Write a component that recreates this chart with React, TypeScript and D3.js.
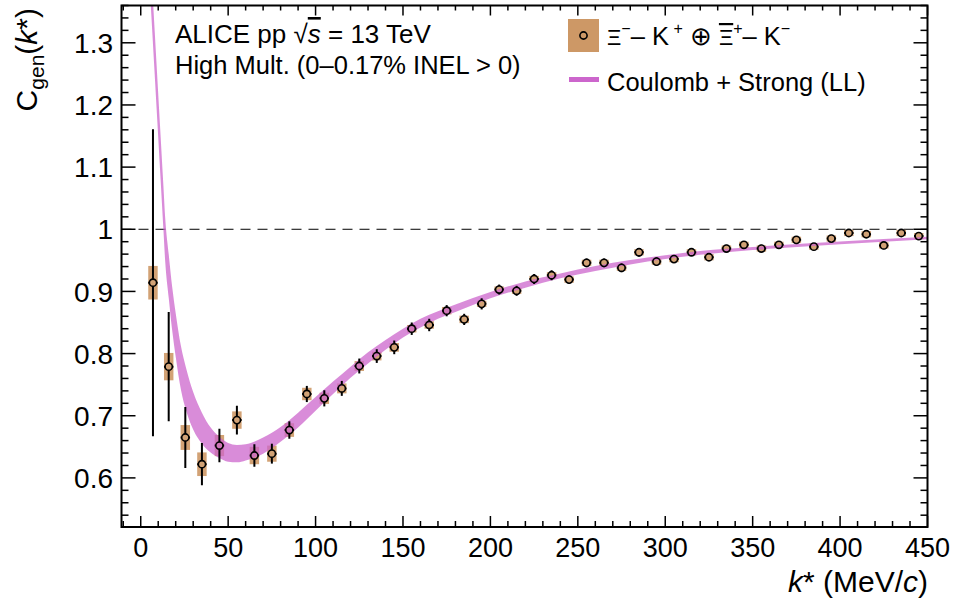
import React from 'react';
import * as d3 from 'd3';

// ---- data ----
const kStar = [7, 16, 25.5, 35, 45, 55, 65, 75, 85, 95, 105, 115, 125, 135, 145, 155, 165, 175, 185, 195, 205, 215, 225, 235, 245, 255, 265, 275, 285, 295, 305, 315, 325, 335, 345, 355, 365, 375, 385, 395, 405, 415, 425, 435, 445];
const cGen = [0.914, 0.779, 0.665, 0.622, 0.652, 0.693, 0.636, 0.639, 0.677, 0.735, 0.728, 0.744, 0.780, 0.796, 0.810, 0.840, 0.846, 0.869, 0.855, 0.880, 0.903, 0.901, 0.920, 0.926, 0.919, 0.946, 0.946, 0.938, 0.963, 0.948, 0.952, 0.963, 0.955, 0.969, 0.975, 0.969, 0.975, 0.983, 0.972, 0.985, 0.994, 0.992, 0.974, 0.994, 0.989];
const statErr = [0.247, 0.088, 0.049, 0.034, 0.027, 0.023, 0.018, 0.016, 0.014, 0.013, 0.013, 0.012, 0.012, 0.011, 0.011, 0.010, 0.010, 0.009, 0.009, 0.009, 0.008, 0.008, 0.008, 0.008, 0.007, 0.007, 0.007, 0.007, 0.007, 0.007, 0.006, 0.006, 0.006, 0.006, 0.006, 0.006, 0.006, 0.006, 0.006, 0.006, 0.006, 0.006, 0.006, 0.006, 0.006];
const sysErr = [0.027, 0.022, 0.020, 0.019, 0.017, 0.014, 0.014, 0.013, 0.011, 0.010, 0.009, 0.008, 0.008, 0.007, 0.007, 0.006, 0.006, 0.006, 0.006, 0.005, 0.005, 0.005, 0.005, 0.005, 0.005, 0.005, 0.005, 0.005, 0.005, 0.005, 0.005, 0.005, 0.005, 0.005, 0.005, 0.005, 0.005, 0.005, 0.005, 0.005, 0.005, 0.005, 0.005, 0.005, 0.005];

const bandK = [5, 6, 7, 8, 9, 10, 11, 12, 13, 14, 16, 18, 20, 23, 26, 30, 35, 40, 45, 50, 55, 60, 70, 80, 90, 100, 110, 120, 130, 140, 150, 160, 170, 180, 200, 220, 240, 260, 280, 300, 320, 350, 400, 450];
const bandLo = [1.398, 1.348, 1.298, 1.248, 1.198, 1.148, 1.098, 1.048, 0.998, 0.948, 0.890, 0.837, 0.795, 0.742, 0.708, 0.678, 0.655, 0.641, 0.632, 0.626, 0.625, 0.628, 0.639, 0.658, 0.681, 0.708, 0.735, 0.761, 0.784, 0.806, 0.826, 0.842, 0.856, 0.867, 0.889, 0.906, 0.921, 0.933, 0.9435, 0.952, 0.959, 0.9665, 0.9758, 0.984];
const bandHi = [1.468, 1.418, 1.368, 1.318, 1.268, 1.218, 1.168, 1.118, 1.068, 1.018, 0.960, 0.907, 0.865, 0.812, 0.776, 0.738, 0.705, 0.681, 0.666, 0.656, 0.653, 0.654, 0.665, 0.682, 0.705, 0.730, 0.755, 0.779, 0.802, 0.822, 0.840, 0.856, 0.868, 0.879, 0.899, 0.916, 0.929, 0.941, 0.9505, 0.958, 0.965, 0.9715, 0.9802, 0.988];

const xTickVals = [0, 50, 100, 150, 200, 250, 300, 350, 400, 450];
const yTickVals = [0.6, 0.7, 0.8, 0.9, 1.0, 1.1, 1.2, 1.3];
const yTickLabels = ['0.6', '0.7', '0.8', '0.9', '1', '1.1', '1.2', '1.3'];

export default function App() {
  const width = 955;
  const height = 603;
  const FONT = '"Liberation Sans", Arial, Helvetica, sans-serif';
  const BOX = '#cd9866';
  const BAND = '#cc66cc';
  const kErr = 2.7;
  const mr = 3.6;
  const L = 121.5, R = 927.5, T = 5.5, B = 527;
  const x = d3.scaleLinear().domain([-11, 450]).range([L, R]);
  const y = d3.scaleLinear().domain([0.521, 1.36]).range([B, T]);

  const bandData = bandK.map((k, i) => ({ k: k, lo: bandLo[i], hi: bandHi[i] }));
  const area = d3.area()
    .x((d: any) => x(d.k)).y0((d: any) => y(d.lo)).y1((d: any) => y(d.hi))
    .curve(d3.curveMonotoneX);
  const bandPath = (area as any)(bandData) || '';

  const xMinor = d3.range(-10, 451, 10);
  const yMinor = d3.range(0.54, 1.3601, 0.02);

  const pts = kStar.map((k, i) => ({ k: k, v: cGen[i], s: statErr[i], sy: sysErr[i] }));

  return (
    <svg width={width} height={height} style={{ position: 'absolute', left: 0, top: 0, display: 'block', background: '#fff' }} fontFamily={FONT}>
      <defs>
        <clipPath id="plotclip"><rect x={L} y={T} width={R - L} height={B - T} /></clipPath>
      </defs>
      <rect x={0} y={0} width={width} height={height} fill="#fff" />
      <line x1={L} x2={R} y1={y(1)} y2={y(1)} stroke="#000" strokeWidth={1} strokeDasharray="10,7" />
      <g clipPath="url(#plotclip)">
        {pts.map((p, i) => (
          <rect key={'b' + i} x={x(p.k - kErr)} width={x(p.k + kErr) - x(p.k - kErr)} y={y(p.v + p.sy)} height={y(p.v - p.sy) - y(p.v + p.sy)} fill={BOX} opacity={0.9} />
        ))}
        <path d={bandPath} fill={BAND} fillOpacity={0.75} />
        {pts.map((p, i) => {
          const cx = x(p.k), cy = y(p.v);
          const top = y(p.v + p.s), bot = y(p.v - p.s);
          const lft = x(p.k - kErr), rgt = x(p.k + kErr);
          return (
            <g key={'e' + i} stroke="#000" strokeWidth={2}>
              {top < cy - mr && <line x1={cx} x2={cx} y1={top} y2={cy - mr} />}
              {bot > cy + mr && <line x1={cx} x2={cx} y1={cy + mr} y2={bot} />}
              <line x1={lft} x2={cx - mr} y1={cy} y2={cy} />
              <line x1={cx + mr} x2={rgt} y1={cy} y2={cy} />
            </g>
          );
        })}
        {pts.map((p, i) => (
          <circle key={'m' + i} cx={x(p.k)} cy={y(p.v)} r={mr} fill="none" stroke="#000" strokeWidth={1.6} />
        ))}
      </g>
      <rect x={L} y={T} width={R - L} height={B - T} fill="none" stroke="#000" strokeWidth={2} />
      {xMinor.map(v => {
        const major = Math.abs(v % 50) < 1e-6;
        return (
          <g key={'xt' + v} stroke="#000" strokeWidth={1.5}>
            <line x1={x(v)} x2={x(v)} y1={B} y2={B - (major ? 11 : 6)} />
            <line x1={x(v)} x2={x(v)} y1={T} y2={T + (major ? 10 : 5)} />
          </g>
        );
      })}
      {yMinor.map((v, i) => {
        const major = Math.abs(v * 10 - Math.round(v * 10)) < 1e-6;
        return (
          <g key={'yt' + i} stroke="#000" strokeWidth={1.5}>
            <line x1={L} x2={L + (major ? 14 : 7)} y1={y(v)} y2={y(v)} />
            <line x1={R} x2={R - (major ? 14 : 7)} y1={y(v)} y2={y(v)} />
          </g>
        );
      })}
      {xTickVals.map(v => (
        <text key={'xl' + v} x={x(v)} y={557} fontSize={27} textAnchor="middle" fill="#000">{v}</text>
      ))}
      {yTickVals.map((v, i) => (
        <text key={'yl' + v} x={113} y={y(v)} dy="0.36em" fontSize={28} textAnchor="end" fill="#000">{yTickLabels[i]}</text>
      ))}
      <text x={928} y={592} fontSize={30} textAnchor="end" fill="#000">
        <tspan fontStyle="italic">k</tspan>* (MeV/<tspan fontStyle="italic">c</tspan>)
      </text>
      <text transform="translate(37,8) rotate(-90)" fontSize={30} textAnchor="end" fill="#000">
        C<tspan fontSize={21} dy={7}>gen</tspan><tspan dy={-7}>(</tspan><tspan fontStyle="italic">k</tspan>*)
      </text>
      <text x={175} y={43} fontSize={26} fill="#000">
        ALICE pp √<tspan fontStyle="italic" style={{ textDecoration: 'overline' }}>s</tspan> = 13 TeV
      </text>
      <text x={175} y={74} fontSize={25.5} fill="#000">High Mult. (0–0.17% INEL &gt; 0)</text>
      <rect x={568} y={19} width={31} height={33} fill={BOX} />
      <circle cx={583.5} cy={35.5} r={mr} fill="none" stroke="#000" strokeWidth={1.6} />
      <text x={607} y={45} fontSize={25.5} fill="#000">
        <tspan fontSize={22}>Ξ</tspan><tspan fontSize={16} dy={-11}>−</tspan><tspan dy={11}>– K</tspan><tspan fontSize={16} dy={-11}> +</tspan><tspan dy={11}> ⊕ </tspan><tspan fontSize={22} style={{ textDecoration: 'overline' }}>Ξ</tspan><tspan fontSize={16} dy={-11}>+</tspan><tspan dy={11}>– K</tspan><tspan fontSize={16} dy={-11}>−</tspan>
      </text>
      <rect x={569} y={77} width={30} height={5} fill={BAND} />
      <text x={607} y={91} fontSize={25.5} fill="#000">Coulomb + Strong (LL)</text>
    </svg>
  );
}
